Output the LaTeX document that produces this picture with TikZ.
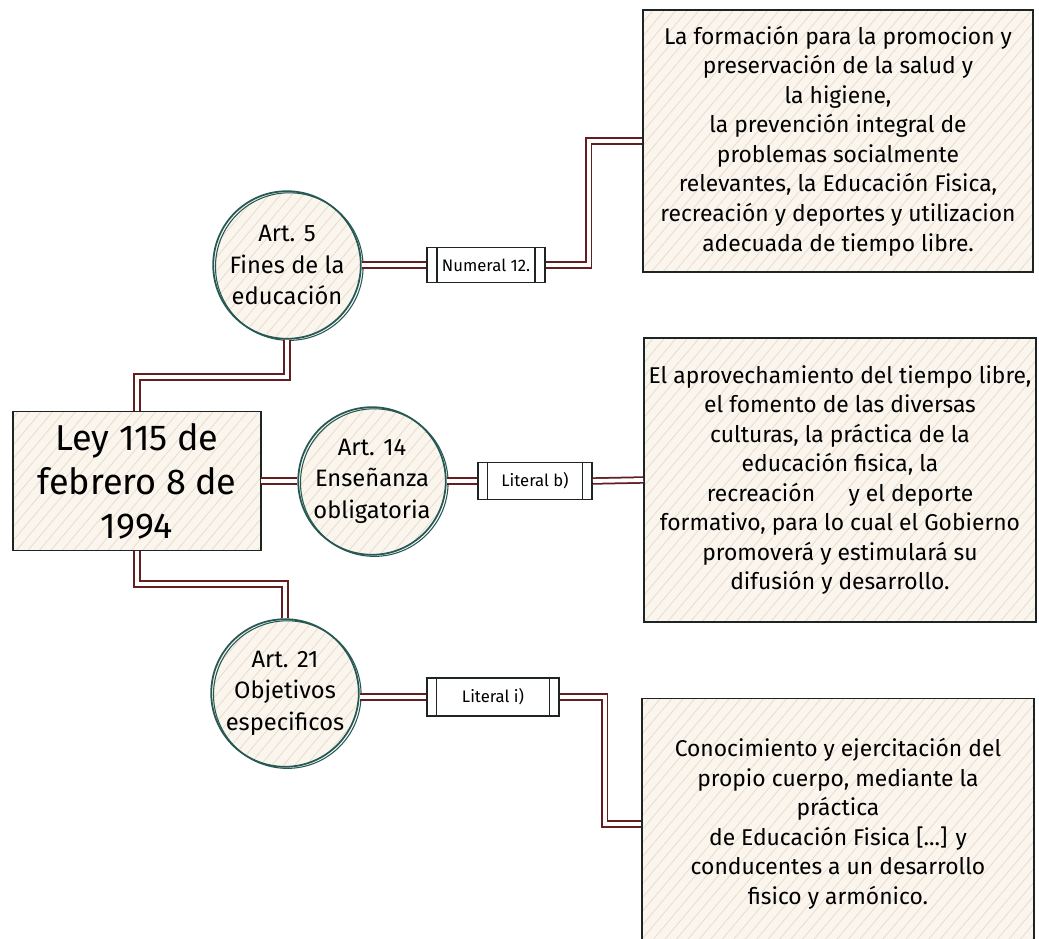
\documentclass[tikz,border=0pt]{standalone}
\usepackage{fontspec}
\setmainfont{Fira Sans}
\usetikzlibrary{positioning,patterns.meta}
\definecolor{cream}{RGB}{250,246,238}
\definecolor{hatch}{RGB}{236,220,208}
\definecolor{tealline}{RGB}{38,88,84}
\definecolor{boxline}{RGB}{28,36,36}
\definecolor{linkred}{RGB}{100,30,32}

\begin{document}
\begin{tikzpicture}[x=0.02cm,y=-0.02cm,line width=1pt,
  hatched/.style={preaction={fill=cream},pattern={Lines[angle=50,distance=5pt,line width=0.5pt]},pattern color=hatch},
  ley/.style={hatched,draw=boxline,minimum width=141pt,minimum height=79pt,align=center,font=\fontsize{20.5}{25}\selectfont},
  art/.style={circle,hatched,draw=tealline,minimum size=84pt,inner sep=0pt,align=center,font=\fontsize{13.5}{18}\selectfont,
    postaction={draw=tealline,line width=0.6pt,transform canvas={shift={(1.3pt,-0.9pt)}}}},
  scroll/.style={draw=boxline,fill=white,align=center,font=\fontsize{9.5}{11}\selectfont,
    path picture={\draw[boxline,line width=0.8pt]
      ([xshift=5.5pt]path picture bounding box.north west) -- ([xshift=5.5pt]path picture bounding box.south west)
      ([xshift=-5.5pt]path picture bounding box.north east) -- ([xshift=-5.5pt]path picture bounding box.south east);}},
  note/.style={hatched,draw=boxline,align=center,inner sep=2pt,font=\fontsize{13}{16.8}\selectfont},
  link/.style={draw=linkred,line width=1pt,double=white,double distance=2.2pt}]
        \clip (0,0) rectangle (1039,939);
        \fill[white] (0,0) rectangle (1039,939);
        %%%%%%%%%%%%%%%%%%%%%%%%%%%ley%%%%%%%%%%%%%%%%%%%%%%
          \node (0) at (137,481) [ley] {Ley 115 de\\febrero 8 de\\1994};
        %%%%%%%%%%%%%%%%%%%%%%%%%%%articulos%%%%%%%%%%%%%%%%%%%%%%
          \node (1) at (287,265) [art] {Art. 5\\Fines de la\\educación};
          \node (2) at (372,481) [art] {Art. 14\\Enseñanza\\obligatoria};
          \node (3) at (285,693) [art] {Art. 21\\Objetivos\\especificos};
        %%%%%%%%%%%%%%%%%%%%%%%%%%%literales%%%%%%%%%%%%%%%%%%%%%%
          \node (11) at (486,265) [scroll,minimum width=67pt,minimum height=20pt] {Numeral 12.};
          \node (21) at (535,481) [scroll,minimum width=65pt,minimum height=21pt] {Literal b)};
          \node (31) at (493,697) [scroll,minimum width=75pt,minimum height=21.5pt] {Literal i)};
        %%%%%%%%%%%%%%%%%%%%%%%%%%%textos%%%%%%%%%%%%%%%%%%%%%%
          \node (12) at (838,141) [note,minimum width=222pt,minimum height=149pt]
          {La formación para la promocion y\\preservación de la salud y\\la higiene,\\la prevención integral de\\
          problemas socialmente\\relevantes, la Educación Fisica,\\recreación y deportes y utilizacion\\adecuada de tiempo libre.};
          \node (22) at (840,480) [note,minimum width=223pt,minimum height=162pt]
          {El aprovechamiento del tiempo libre,\\el fomento de las diversas\\culturas, la práctica de la\\
          educación fisica, la\hspace{2.5em}\\recreación\hspace{1.2em} y el deporte\\formativo, para lo cual el Gobierno\\
          promoverá y estimulará su\\difusión y desarrollo.};
          \node (32) at (838,824) [note,minimum width=223pt,minimum height=143pt]
          {Conocimiento y ejercitación del\\propio cuerpo, mediante la\\práctica\\de Educación Fisica [...] y\\
          conducentes a un desarrollo\\fisico y armónico.};
        %%%%%%%%%%%%%%%%%%%%%%%%%%%enlaces%%%%%%%%%%%%%%%%%%%%%%
          \draw[link] (0.north) -- ++(0,-34) -| (1.south);
          \draw[link] (0.south) -- ++(0,33) -| (3.north);
          \draw[link] (0.east) -- (2.west);
          \draw[link] (1.east) -- (11.west);
          \draw[link] (11.east) -- ++(43,0) |- (12.west);
          \draw[link] (2.east) -- (21.west);
          \draw[link] (21.east) -- (22.west);
          \draw[link] (3.east |- 31.west) -- (31.west);
          \draw[link] (31.east) -- ++(45,0) |- (32.west);
        \end{tikzpicture}
\end{document}
